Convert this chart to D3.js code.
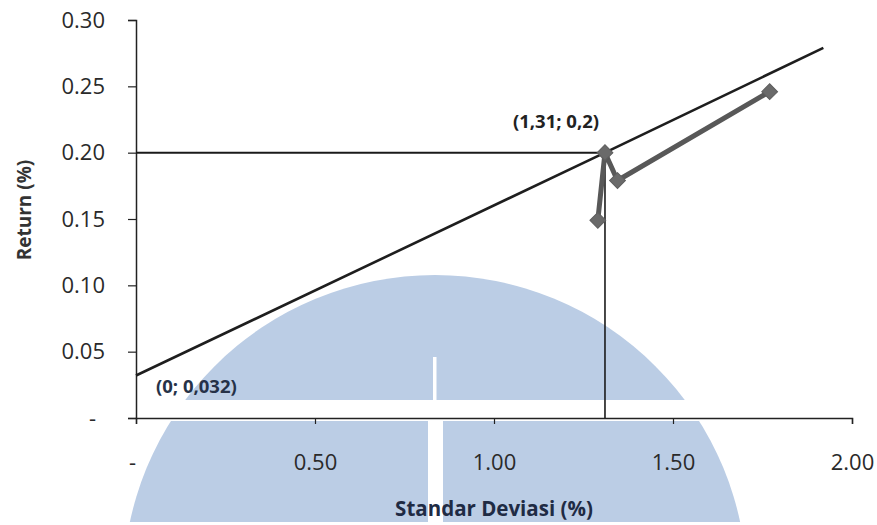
<!DOCTYPE html>
<html>
<head>
<meta charset="utf-8">
<script src="https://cdn.jsdelivr.net/npm/d3@7"></script>
<style>
  html, body { margin: 0; padding: 0; background: #fff; }
  svg { display: block; font-family: "Open Sans", "DejaVu Sans", sans-serif; }
</style>
</head>
<body>
<svg id="chart" width="877" height="525"></svg>
<script>
// Capital market line (risk-free point, tangency point, end of line)
const cmlSd  = [0, 1.31, 1.92];
const cmlRet = [0.032, 0.20, 0.279];

// Portfolio frontier points
const portSd  = [1.29, 1.31, 1.345, 1.77];
const portRet = [0.149, 0.20, 0.179, 0.246];

// Tangency portfolio and risk-free asset
const tangent = { sd: 1.31, ret: 0.20, label: "(1,31; 0,2)" };
const riskFree = { sd: 0, ret: 0.032, label: "(0; 0,032)" };

// Axis ticks
const xTicks = [0, 0.5, 1.0, 1.5, 2.0];
const yTicks = [0, 0.05, 0.10, 0.15, 0.20, 0.25, 0.30];

const xTitle = "Standar Deviasi (%)";
const yTitle = "Return (%)";

const svg = d3.select("#chart");
const W = 877, H = 525;
const plotL = 136, plotR = 852, plotT = 20, plotB = 418;

const x = d3.scaleLinear().domain([0, 2]).range([plotL, plotR]);
const y = d3.scaleLinear().domain([0, 0.30]).range([plotB, plotT]);

// Faint logo backdrop
const bg = svg.append("g").attr("class", "backdrop");
const defs = svg.append("defs");
const clip = defs.append("clipPath").attr("id", "domeClip");
clip.append("rect").attr("x", 0).attr("y", 0).attr("width", W).attr("height", 400);
clip.append("rect").attr("x", 0).attr("y", 421).attr("width", W).attr("height", 101);
bg.append("circle")
  .attr("cx", 435).attr("cy", 587).attr("r", 312)
  .attr("fill", "#bbcde5")
  .attr("clip-path", "url(#domeClip)");
bg.append("rect").attr("x", 433).attr("y", 357).attr("width", 3.5).attr("height", 44).attr("fill", "#fff");
bg.append("rect").attr("x", 428).attr("y", 420).attr("width", 15).attr("height", 105).attr("fill", "#fff");

const fmt = d3.format(".2f");

// Y axis
const yAxis = svg.append("g")
  .attr("transform", `translate(${plotL},0)`)
  .call(d3.axisLeft(y).tickValues(yTicks).tickSize(8).tickPadding(23)
    .tickFormat(d => d === 0 ? "-" : fmt(d)));
yAxis.select(".domain").attr("stroke", "#222").attr("stroke-width", 1.5);
yAxis.selectAll(".tick line").attr("stroke", "#222").attr("stroke-width", 1.2);
yAxis.selectAll(".tick text")
  .attr("font-size", 22).attr("fill", "#2a2a2a")
  .attr("font-family", "\"Open Sans\", sans-serif")
  .attr("dx", d => d === 0 ? -9 : 0);

// X axis
const xAxis = svg.append("g")
  .attr("transform", `translate(0,${plotB})`)
  .call(d3.axisBottom(x).tickValues(xTicks).tickSize(6).tickPadding(30)
    .tickFormat(d => d === 0 ? "-" : fmt(d)));
xAxis.select(".domain").attr("stroke", "#222").attr("stroke-width", 1.5);
xAxis.selectAll(".tick line").attr("stroke", "#222").attr("stroke-width", 1.2);
xAxis.selectAll(".tick text")
  .attr("font-size", 22).attr("fill", "#2a2a2a")
  .attr("font-family", "\"Open Sans\", sans-serif")
  .attr("dx", d => d === 0 ? -4 : 0);

// Guide lines to the tangency point
svg.append("line")
  .attr("x1", x(0)).attr("y1", y(tangent.ret))
  .attr("x2", x(tangent.sd)).attr("y2", y(tangent.ret))
  .attr("stroke", "#1a1a1a").attr("stroke-width", 2);
svg.append("line")
  .attr("x1", x(tangent.sd)).attr("y1", y(0))
  .attr("x2", x(tangent.sd)).attr("y2", y(tangent.ret))
  .attr("stroke", "#1a1a1a").attr("stroke-width", 1.6);

// Capital market line
const line = d3.line().x(d => x(d[0])).y(d => y(d[1]));
svg.append("path")
  .datum(cmlSd.map((s, i) => [s, cmlRet[i]]))
  .attr("d", line)
  .attr("fill", "none").attr("stroke", "#1e1e1e").attr("stroke-width", 2.6);

// Portfolio frontier
const pts = portSd.map((s, i) => [s, portRet[i]]);
svg.append("path")
  .datum(pts)
  .attr("d", line)
  .attr("fill", "none").attr("stroke", "#585858").attr("stroke-width", 5)
  .attr("stroke-linejoin", "round");
svg.selectAll(".marker")
  .data(pts).enter().append("path")
  .attr("class", "marker")
  .attr("d", d3.symbol().type(d3.symbolSquare).size(125))
  .attr("transform", d => `translate(${x(d[0])},${y(d[1])}) rotate(45)`)
  .attr("fill", "#6a6a6a").attr("stroke", "#5e5e5e").attr("stroke-width", 1);

// Point annotations
svg.append("text")
  .attr("x", x(tangent.sd) - 92).attr("y", y(tangent.ret) - 25)
  .attr("font-size", 18.5).attr("font-weight", 700).attr("fill", "#222")
  .text(tangent.label);
svg.append("text")
  .attr("x", x(riskFree.sd) + 20).attr("y", y(riskFree.ret) + 17)
  .attr("font-size", 18.5).attr("font-weight", 700).attr("fill", "#263248")
  .text(riskFree.label);

// Axis titles
svg.append("text")
  .attr("x", (plotL + plotR) / 2).attr("y", 516)
  .attr("text-anchor", "middle")
  .attr("font-size", 20.5).attr("font-weight", 700).attr("fill", "#1f2b44")
  .text(xTitle);
svg.append("text")
  .attr("transform", `translate(31,210) rotate(-90)`)
  .attr("text-anchor", "middle")
  .attr("font-size", 19).attr("font-weight", 700).attr("fill", "#333")
  .text(yTitle);
</script>
</body>
</html>
